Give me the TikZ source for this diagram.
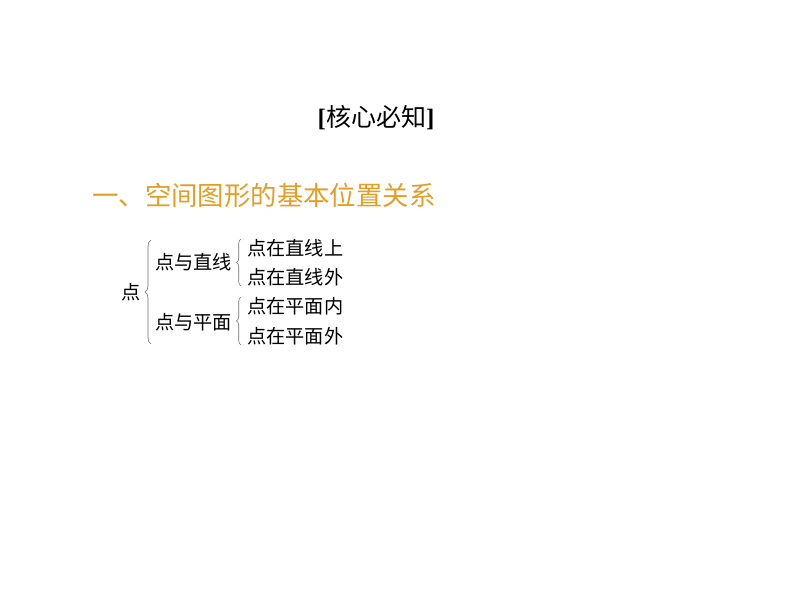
\documentclass[tikz,border=0pt]{standalone}
\usepackage{fontspec}
\setmainfont{Liberation Serif}
\newfontfamily\cjk{Noto Sans CJK SC}
\usetikzlibrary{decorations.pathreplacing}
\definecolor{headorange}{RGB}{228,158,38}
\definecolor{bracegray}{RGB}{110,110,110}
\tikzset{
  item/.style={inner sep=0pt, anchor=west, font=\cjk\fontsize{19.2}{19}\selectfont},
  bigbrace/.style={draw=bracegray, line width=0.6pt, decorate, decoration={brace, amplitude=6pt, mirror}},
  smallbrace/.style={draw=bracegray, line width=0.6pt, decorate, decoration={brace, amplitude=4.5pt, mirror}}
}
\begin{document}
\begin{tikzpicture}[x=1pt,y=-1pt]
\useasboundingbox (0,0) rectangle (794,596);
\node[inner sep=0pt, font=\fontsize{25}{25}\selectfont\bfseries] (title) at (376,118) {[{\cjk\mdseries\fontsize{25}{25}\selectfont 核心必知}]};
\node[inner sep=0pt, anchor=west, text=headorange, font=\cjk\fontsize{26.4}{26}\selectfont] (head) at (92,195) {一、空间图形的基本位置关系};
\node[item] (root) at (121,292) {点};
\node[item] (line) at (155,262) {点与直线};
\node[item] (plane) at (155,322) {点与平面};
\node[item] (l1) at (247,248) {点在直线上};
\node[item] (l2) at (247,277) {点在直线外};
\node[item] (p1) at (247,306) {点在平面内};
\node[item] (p2) at (247,336) {点在平面外};
\coordinate (bt) at (151,240);
\coordinate (bb) at (151,344);
\draw[bigbrace] (bt) -- (bb);
\draw[smallbrace] (l1.west |- 0,239) ++(-6,0) coordinate (s1t) -- ++(0,47) coordinate (s1b);
\draw[smallbrace] (p1.west |- 0,297) ++(-6,0) coordinate (s2t) -- ++(0,48) coordinate (s2b);
\end{tikzpicture}
\end{document}
